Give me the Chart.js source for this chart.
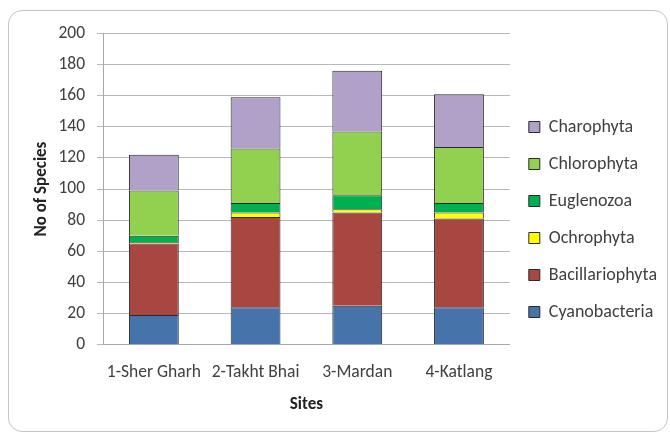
<!DOCTYPE html>
<html>
<head>
<meta charset="utf-8">
<script src="https://cdn.jsdelivr.net/npm/chart.js@4.4.0/dist/chart.umd.min.js"></script>
<style>
  html, body { margin: 0; padding: 0; background: #ffffff; }
  #frame { position: absolute; left: 8px; top: 10px; width: 660px; height: 422px; box-sizing: border-box;
           border: 1px solid #c4c4c4; border-radius: 14px; background: #fff; }
  #c { position: absolute; left: 0; top: 0; }
</style>
</head>
<body>
<div id="frame"><canvas id="c" width="658" height="420"></canvas></div>
<script>
const sites = ["1-Sher Gharh", "2-Takht Bhai", "3-Mardan", "4-Katlang"];
const cyanobacteria = [19, 24, 25, 24];
const bacillariophyta = [46, 58, 60, 57];
const ochrophyta = [1, 3, 2, 4];
const euglenozoa = [4, 6, 9, 6];
const chlorophyta = [29, 35, 41, 36];
const charophyta = [23, 33, 39, 34];
const yTicks = [0, 20, 40, 60, 80, 100, 120, 140, 160, 180, 200];

const font = "Carlito, Lato, 'Liberation Sans', sans-serif";
const textColor = '#404040';

function ds(label, data, color) {
  return { label, data, backgroundColor: color, borderColor: '#2a2a2a', borderWidth: 1,
           barPercentage: 0.49, categoryPercentage: 1.0 };
}

new Chart(document.getElementById('c'), {
  type: 'bar',
  data: {
    labels: sites,
    datasets: [
      ds('Cyanobacteria', cyanobacteria, '#4673AA'),
      ds('Bacillariophyta', bacillariophyta, '#A84642'),
      ds('Ochrophyta', ochrophyta, '#FFFF00'),
      ds('Euglenozoa', euglenozoa, '#00B050'),
      ds('Chlorophyta', chlorophyta, '#92D050'),
      ds('Charophyta', charophyta, '#B1A0C7')
    ]
  },
  options: {
    responsive: false,
    animation: false,
    layout: { padding: { left: 23, right: 0, top: 13, bottom: 16 } },
    plugins: {
      legend: {
        position: 'right',
        reverse: true,
        labels: {
          boxWidth: 11, boxHeight: 11, padding: 19,
          color: textColor,
          font: { family: font, size: 18 }
        }
      },
      tooltip: { enabled: false }
    },
    scales: {
      x: {
        stacked: true,
        grid: { display: false, drawTicks: false },
        border: { color: '#a8a8a8' },
        ticks: { color: textColor, font: { family: font, size: 17.5 }, padding: 18, maxRotation: 0, minRotation: 0, autoSkip: false },
        title: { display: true, text: 'Sites', color: '#222', font: { family: font, size: 17, weight: 'bold' }, padding: { top: -7, bottom: 0 } }
      },
      y: {
        stacked: true,
        min: 0, max: 200,
        afterBuildTicks: (scale) => { scale.ticks = yTicks.map(v => ({ value: v })); },
        grid: { color: '#b8b8b8', tickLength: 6 },
        border: { color: '#a8a8a8' },
        ticks: { color: textColor, font: { family: font, size: 17.5 }, padding: 12 },
        title: { display: true, text: 'No of Species', color: '#222', font: { family: font, size: 17, weight: 'bold' }, padding: { top: 0, bottom: -6 } }
      }
    }
  }
});
</script>
</body>
</html>
